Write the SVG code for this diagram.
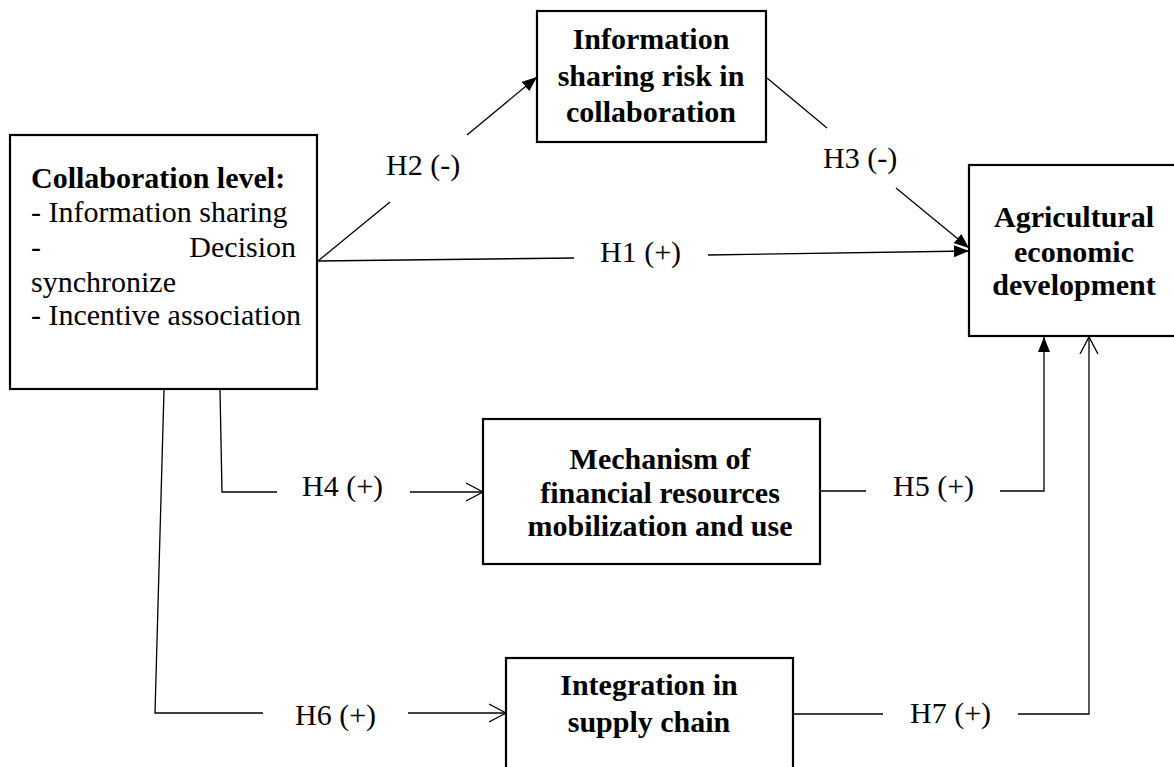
<svg xmlns="http://www.w3.org/2000/svg" width="1174" height="767" viewBox="0 0 1174 767">
<defs>
<style>
.box{fill:#fff;stroke:#000;stroke-width:2.2}
.t{font-family:"Liberation Serif","Times New Roman",serif;font-size:30px;fill:#000}
.b{font-weight:bold;text-anchor:middle}
.ln{fill:none;stroke:#000;stroke-width:1.3}
</style>
<marker id="fa" markerUnits="userSpaceOnUse" markerWidth="16" markerHeight="12" refX="15" refY="6" orient="auto">
<path d="M0,0 L15,6 L0,12 z" fill="#000"/>
</marker>
<marker id="oa" markerUnits="userSpaceOnUse" markerWidth="20" markerHeight="20" refX="17" refY="10" orient="auto">
<path d="M0,1 L17,10 L0,19" fill="none" stroke="#000" stroke-width="1.3"/>
</marker>
</defs>
<rect width="1174" height="767" fill="#fff"/>
<g id="connectors">
<line class="ln" x1="318" y1="261" x2="390" y2="202"/>
<line class="ln" x1="467" y1="135" x2="537" y2="77" marker-end="url(#fa)"/>
<line class="ln" x1="767" y1="78" x2="827" y2="128"/>
<line class="ln" x1="896" y1="188" x2="969" y2="248" marker-end="url(#fa)"/>
<line class="ln" x1="318" y1="261" x2="574" y2="258"/>
<line class="ln" x1="708" y1="255" x2="969" y2="251" marker-end="url(#fa)"/>
<polyline class="ln" points="220,390 222,492 277,492"/>
<line class="ln" x1="410" y1="492" x2="483" y2="492" marker-end="url(#oa)"/>
<polyline class="ln" points="164,390 155,713 263,713"/>
<line class="ln" x1="408" y1="713" x2="506" y2="713" marker-end="url(#oa)"/>
<line class="ln" x1="820" y1="491" x2="866" y2="491"/>
<polyline class="ln" points="1000,491 1044,491 1044,337" marker-end="url(#fa)"/>
<line class="ln" x1="793" y1="714" x2="883" y2="714"/>
<polyline class="ln" points="1018,714 1089,714 1089,337" marker-end="url(#oa)"/>
<text class="t" x="386" y="175">H2 (-)</text>
<text class="t" x="823" y="168">H3 (-)</text>
<text class="t" x="600" y="262">H1 (+)</text>
<text class="t" x="302" y="496">H4 (+)</text>
<text class="t" x="893" y="496">H5 (+)</text>
<text class="t" x="295" y="725">H6 (+)</text>
<text class="t" x="910" y="723">H7 (+)</text>
</g>
<g id="collab">
<rect class="box" x="10" y="135" width="307" height="254"/>
<text class="t" x="31" y="188" font-weight="bold">Collaboration level:</text>
<text class="t" x="31" y="222">- Information sharing</text>
<text class="t" x="31" y="257">-</text>
<text class="t" x="296" y="257" text-anchor="end">Decision</text>
<text class="t" x="31" y="292">synchronize</text>
<text class="t" x="31" y="325">- Incentive association</text>
</g>
<g id="risk">
<rect class="box" x="537" y="11" width="229" height="131"/>
<text class="t b" x="651" y="49">Information</text>
<text class="t b" x="651" y="86">sharing risk in</text>
<text class="t b" x="651" y="122">collaboration</text>
</g>
<g id="agri">
<rect class="box" x="969" y="165" width="211" height="171"/>
<text class="t b" x="1074" y="227">Agricultural</text>
<text class="t b" x="1074" y="262">economic</text>
<text class="t b" x="1074" y="295">development</text>
</g>
<g id="mechanism">
<rect class="box" x="483" y="419" width="337" height="145"/>
<text class="t b" x="660" y="469">Mechanism of</text>
<text class="t b" x="660" y="503">financial resources</text>
<text class="t b" x="660" y="536">mobilization and use</text>
</g>
<g id="integration">
<rect class="box" x="506" y="658" width="287" height="120"/>
<text class="t b" x="649" y="695">Integration in</text>
<text class="t b" x="649" y="732">supply chain</text>
</g>
</svg>
